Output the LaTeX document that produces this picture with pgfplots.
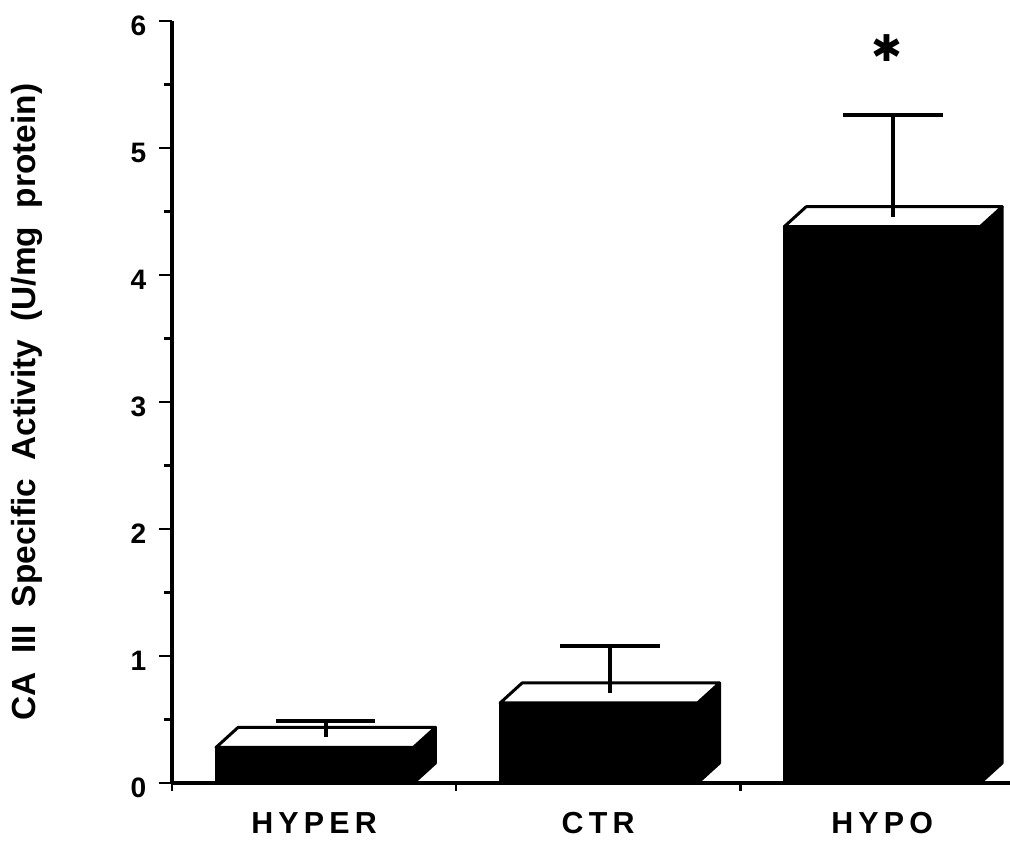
\documentclass[border=0pt]{standalone}
\usepackage{fontspec}
\setmainfont{Liberation Sans}
\newfontfamily\catfont{Liberation Sans}[LetterSpace=17]
\newfontfamily\symfont{DejaVu Sans}
\usepackage{pgfplots}
\pgfplotsset{compat=1.18}

% depth of the pseudo-3D boxes, in axis units
\def\dx{0.0775}
\def\dy{0.1575}

% \barbox{left}{right}{value}{value + error}
\newcommand{\barbox}[4]{%
  \pgfmathsetmacro\xc{#1+\dx}%
  \pgfmathsetmacro\xd{#2+\dx}%
  \pgfmathsetmacro\yt{#3+\dy}%
  \pgfmathsetmacro\xm{(#1+#2+\dx)/2}%
  \pgfmathsetmacro\ym{#3+\dy/2}%
  \pgfmathsetmacro\capL{\xm-0.175}%
  \pgfmathsetmacro\capR{\xm+0.175}%
  % front face
  \addplot[fill=black, draw=black, line width=1.7pt, line join=round]
    coordinates {(#1,0) (#2,0) (#2,#3) (#1,#3)} -- cycle;
  % side face
  \addplot[fill=black, draw=black, line width=1.7pt, line join=round]
    coordinates {(#2,0) (\xd,\dy) (\xd,\yt) (#2,#3)} -- cycle;
  % top face
  \addplot[fill=white, draw=black, line width=1.7pt, line join=round]
    coordinates {(#1,#3) (#2,#3) (\xd,\yt) (\xc,\yt)} -- cycle;
  % error bar
  \addplot[draw=black, line width=2.1pt]
    coordinates {(\xm,\ym) (\xm,#4)};
  \addplot[draw=black, line width=2.1pt]
    coordinates {(\capL,#4) (\capR,#4)};
}

\begin{document}
\begin{tikzpicture}
\path[use as bounding box] (-3.44,-1.18) rectangle (16.76,15.66);
\begin{axis}[
  scale only axis,
  width=16.76cm, height=15.24cm,
  anchor=origin, at={(0,0)},
  xmin=0, xmax=2.95, ymin=0, ymax=6,
  clip=false,
  axis x line*=bottom, axis y line*=left,
  axis line style={line width=1.8pt},
  tick align=outside,
  major tick length=0.26cm,
  minor tick length=0.16cm,
  every tick/.style={black, line width=1.6pt},
  ytick={0,1,2,3,4,5,6},
  minor ytick={0.5,1.5,2.5,3.5,4.5,5.5},
  xtick={0.5,1.5,2.5},
  xticklabels={HYPER,CTR,HYPO},
  xtick style={draw=none},
  extra x ticks={0,1,2},
  extra x tick labels={},
  extra x tick style={xtick style={draw=black}, major tick length=0.16cm},
  /pgf/number format/assume math mode=true,
  yticklabel style={font=\fontsize{16}{18}\selectfont\bfseries, xshift=-0.13cm, yshift=-0.1cm},
  xticklabel style={font=\catfont\fontsize{17.3}{20}\selectfont\bfseries, yshift=-0.2cm},
  every axis y label/.style={at={(axis description cs:-0.173,0.5)}, rotate=90, anchor=center},
  ylabel={\fontsize{19}{21}\selectfont\bfseries CA\ \ III\ \ Specific\ \ Activity\ \ (U/mg\ \ protein)},
]
\barbox{0.155}{0.85}{0.28}{0.49}
\barbox{1.155}{1.85}{0.63}{1.08}
\barbox{2.155}{2.845}{4.38}{5.26}
\node at (axis cs:2.518,5.79) {\symfont\fontsize{21}{22}\selectfont ✱};
\end{axis}
\end{tikzpicture}
\end{document}
